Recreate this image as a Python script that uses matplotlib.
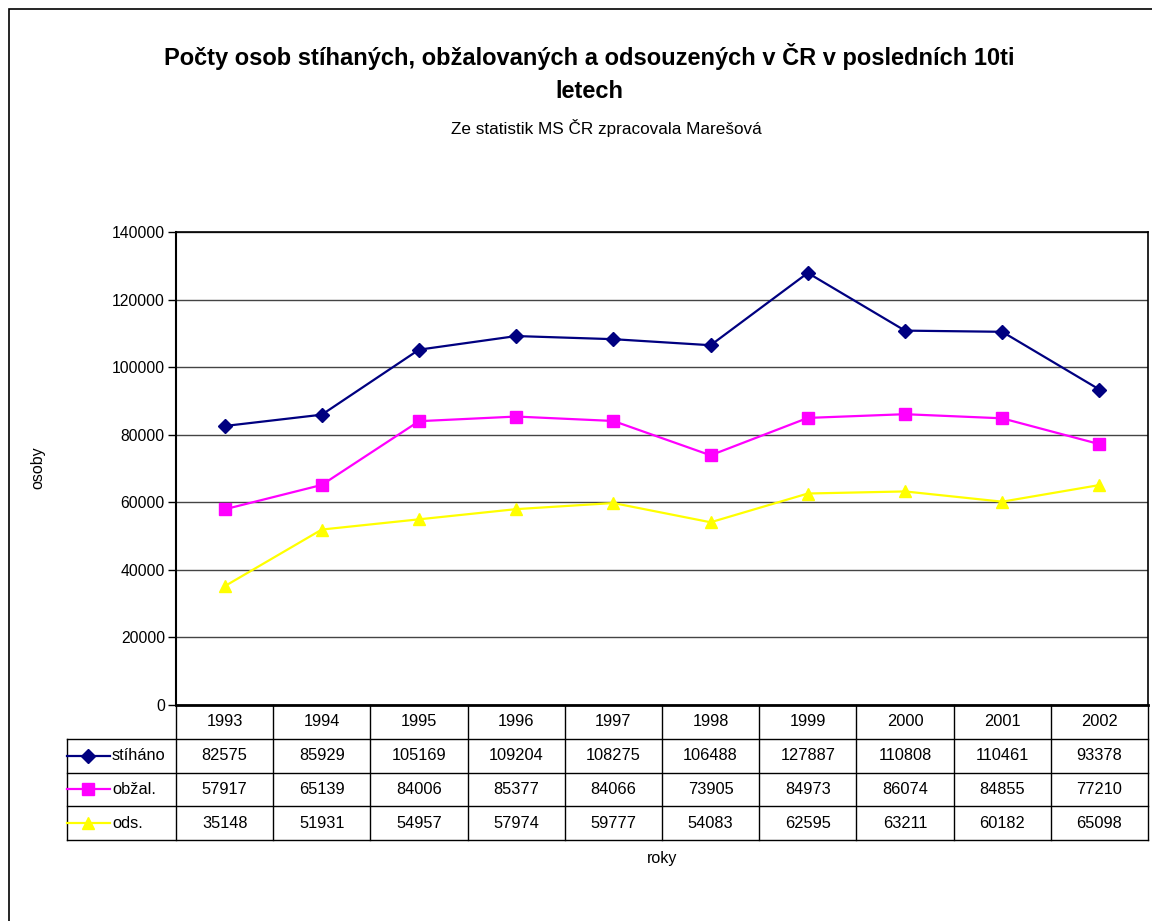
import matplotlib.pyplot as plt
import matplotlib.patches as patches
from matplotlib.lines import Line2D

plt.rcParams['font.family'] = ['Liberation Sans', 'DejaVu Sans']

years = ['1993', '1994', '1995', '1996', '1997', '1998', '1999', '2000', '2001', '2002']
stihano = [82575, 85929, 105169, 109204, 108275, 106488, 127887, 110808, 110461, 93378]
obzal = [57917, 65139, 84006, 85377, 84066, 73905, 84973, 86074, 84855, 77210]
ods = [35148, 51931, 54957, 57974, 59777, 54083, 62595, 63211, 60182, 65098]

series = [
    ('stíháno', stihano, '#000080', 'D', 7),
    ('obžal.', obzal, '#FF00FF', 's', 8),
    ('ods.', ods, '#FFFF00', '^', 8),
]

W, H = 1152, 921
fig = plt.figure(figsize=(W / 100, H / 100), dpi=100)

# outer frame (only left/top visible in the original)
fig.add_artist(patches.Rectangle((9 / W, -0.1), 1.2, 1.1 - 9 / H, transform=fig.transFigure,
                                 fill=False, edgecolor='black', linewidth=1.2))

# plot area
x0, x1, y0, y1 = 176, 1148, 232, 705
ax = fig.add_axes([x0 / W, 1 - y1 / H, (x1 - x0) / W, (y1 - y0) / H])
xs = list(range(len(years)))
for name, vals, col, mk, ms in series:
    ax.plot(xs, vals, color=col, marker=mk, markersize=ms, linewidth=1.6,
            markeredgecolor=col, zorder=3)
ax.set_xlim(-0.5, len(years) - 0.5)
ax.set_ylim(0, 140000)
ax.set_yticks(range(0, 140001, 20000))
ax.set_yticklabels([str(v) for v in range(0, 140001, 20000)], fontsize=11.3)
ax.set_xticks([])
ax.grid(axis='y', color='#444444', linewidth=1)
ax.tick_params(axis='y', length=6, width=1, pad=2)
for s in ax.spines.values():
    s.set_linewidth(1.2)
ax.spines['bottom'].set_linewidth(2)
ax.spines['left'].set_linewidth(1.5)

# data table below the plot
tl, tb = 67, 840
unit = (x1 - x0) / len(years)
xl = -0.5 - (x0 - tl) / unit
tax = fig.add_axes([tl / W, 1 - tb / H, (x1 - tl) / W, (tb - y1) / H])
tax.set_xlim(xl, len(years) - 0.5)
tax.set_ylim(0, 4)
tax.axis('off')

lk = dict(color='black', linewidth=1, clip_on=False)
for r in [0, 1, 2, 3]:
    tax.add_line(Line2D([xl, len(years) - 0.5], [r, r], **lk))
tax.add_line(Line2D([xl, xl], [0, 3], **lk))
for k in range(len(years) + 1):
    tax.add_line(Line2D([k - 0.5, k - 0.5], [0, 4], **lk))

for i, y in enumerate(years):
    tax.text(i, 3.5, y, ha='center', va='center', fontsize=11.8)

for r, (name, vals, col, mk, ms) in enumerate(series):
    yc = 2.5 - r
    kx0 = xl
    kx1 = xl + 43 / unit
    tax.add_line(Line2D([kx0, kx1], [yc, yc], color=col, linewidth=1.6,
                        clip_on=False))
    tax.plot([(kx0 + kx1) / 2], [yc], marker=mk, color=col, markersize=ms,
             clip_on=False)
    tax.text(xl + 45 / unit, yc, name, ha='left', va='center', fontsize=11.8)
    for i, v in enumerate(vals):
        tax.text(i, yc, str(v), ha='center', va='center', fontsize=11.8)

# titles and axis labels
fig.text(589 / W, 1 - 73 / H,
         'Počty osob stíhaných, obžalovaných a odsouzených v ČR v posledních 10ti\nletech',
         ha='center', va='center', fontsize=17, fontweight='bold', linespacing=1.6)
fig.text(606 / W, 1 - 128 / H, 'Ze statistik MS ČR zpracovala Marešová',
         ha='center', va='center', fontsize=12.3)
fig.text(38 / W, 1 - 468 / H, 'osoby', rotation=90, ha='center', va='center', fontsize=11.5)
fig.text(662 / W, 1 - 858 / H, 'roky', ha='center', va='center', fontsize=11.5)

fig.savefig('out.png', dpi=100)
